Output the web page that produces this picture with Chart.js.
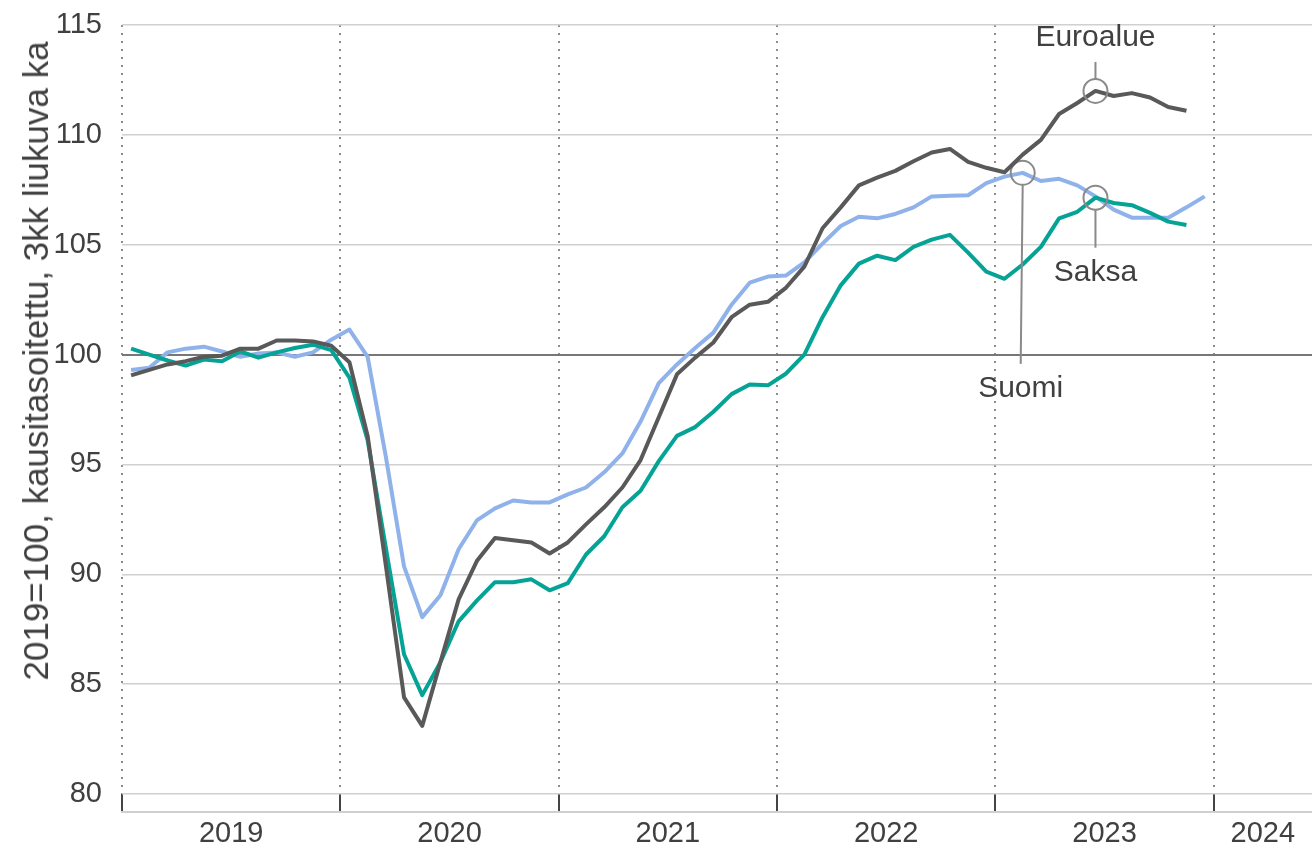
<!DOCTYPE html>
<html>
<head>
<meta charset="utf-8">
<script src="https://cdn.jsdelivr.net/npm/chart.js@4.4.0/dist/chart.umd.min.js"></script>
<style>
html,body{margin:0;padding:0;background:#fff;}
#wrap{position:relative;width:1312px;height:847px;}
#ytitle{position:absolute;left:36px;top:361px;transform:translate(-50%,-50%) rotate(-90deg);white-space:nowrap;
  font:35px "Liberation Sans",Arial,sans-serif;color:#404040;}
</style>
</head>
<body>
<div id="wrap">
  <canvas id="c" width="1312" height="847"></canvas>
  <div id="ytitle">2019=100, kausitasoitettu, 3kk liukuva ka</div>
</div>
<script>
const FONT = '"Liberation Sans", Arial, sans-serif';
const TXT = '#404040';

// monthly, Jan 2019 onwards
const years = ['2019','2020','2021','2022','2023','2024'];
const yTicks = [80,85,90,95,100,105,110,115];

const euroalue = [99.05,99.3,99.55,99.7,99.9,99.95,100.27,100.27,100.64,100.64,
  100.6,100.4,99.65,96.3,90.4,84.4,83.1,86.0,88.86,90.6,
  91.65,91.55,91.45,90.95,91.45,92.27,93.05,93.95,95.2,97.15,
  99.1,99.86,100.55,101.7,102.27,102.4,103.05,104.0,105.75,106.7,
  107.7,108.05,108.36,108.8,109.2,109.36,108.77,108.5,108.3,109.1,
  109.77,110.95,111.45,112.0,111.77,111.9,111.7,111.27,111.1];
const suomi = [99.3,99.4,100.1,100.27,100.36,100.14,99.9,100.05,100.1,99.9,
  100.1,100.68,101.14,99.9,95.36,90.36,88.05,89.05,91.14,92.45,
  93.0,93.36,93.27,93.27,93.64,93.95,94.64,95.5,96.95,98.7,
  99.55,100.3,101.0,102.27,103.27,103.55,103.6,104.2,105.05,105.85,
  106.27,106.2,106.4,106.7,107.2,107.23,107.25,107.8,108.1,108.27,
  107.9,108.0,107.7,107.2,106.6,106.23,106.23,106.23,106.7,107.2];
const saksa = [100.27,100.0,99.73,99.5,99.77,99.7,100.14,99.86,100.1,100.3,
  100.45,100.2,98.95,96.1,91.2,86.36,84.5,86.0,87.86,88.8,
  89.64,89.64,89.77,89.27,89.6,90.9,91.73,93.05,93.8,95.15,
  96.3,96.7,97.4,98.2,98.64,98.6,99.14,100.0,101.7,103.15,
  104.14,104.5,104.3,104.9,105.23,105.45,104.64,103.77,103.45,104.1,
  104.9,106.2,106.5,107.14,106.9,106.8,106.45,106.05,105.9];

const X_MAX = 65.4;  // months shown (mid 2024)
const toPts = arr => arr.map((v,i)=>({x:i+0.5, y:v}));

// label callouts: dataset, point index, offsets of leader line / text from point
const callouts = [
  {ds:0, idx:53, label:'Euroalue', dir:-1, lineEnd:-29, textAt:-53, dx:0},
  {ds:2, idx:49, label:'Suomi',    dir:1,  lineEnd:191, textAt:216, dx:-2},
  {ds:1, idx:53, label:'Saksa',    dir:1,  lineEnd:50,  textAt:75,  dx:0}
];
const RING = '#8a8a8a';

const calloutPlugin = {
  id:'callouts',
  afterDatasetsDraw(chart){
    const ctx = chart.ctx;
    ctx.save();
    ctx.strokeStyle = RING; ctx.lineWidth = 2;
    ctx.font = '30px '+FONT; ctx.fillStyle = TXT;
    ctx.textAlign = 'center'; ctx.textBaseline = 'middle';
    callouts.forEach(c=>{
      const pt = chart.getDatasetMeta(c.ds).data[c.idx];
      ctx.beginPath();
      ctx.moveTo(pt.x, pt.y + c.dir*12);
      ctx.lineTo(pt.x + c.dx, pt.y + c.lineEnd);
      ctx.stroke();
      ctx.fillText(c.label, pt.x + c.dx, pt.y + c.textAt);
    });
    ctx.restore();
  }
};

function series(label, arr, color, ds){
  const hit = callouts.find(c=>c.ds===ds);
  return {label, data:toPts(arr), borderColor:color, borderWidth:4, tension:0,
    borderJoinStyle:'round',
    pointRadius: c => hit && c.dataIndex===hit.idx ? 12 : 0,
    pointBorderColor:RING, pointBorderWidth:2, pointBackgroundColor:'rgba(0,0,0,0)',
    pointHoverRadius:0};
}

new Chart(document.getElementById('c'), {
  type:'line',
  data:{datasets:[
    series('Euroalue', euroalue, '#595959', 0),
    series('Saksa', saksa, '#05a396', 1),
    series('Suomi', suomi, '#8fb2ea', 2)
  ]},
  options:{
    responsive:false, animation:false,
    layout:{padding:{top:25,left:0,right:0,bottom:0}},
    plugins:{legend:{display:false}, tooltip:{enabled:false}},
    scales:{
      x:{type:'linear', position:'bottom', weight:0, min:0, max:X_MAX,
        afterBuildTicks: s => { s.ticks = years.map((y,k)=>({value:k*12})); },
        ticks:{display:false},
        grid:{color:'#8c8c8c', lineWidth:2, drawTicks:true, tickLength:18,
          tickColor:'#444', tickWidth:2, tickBorderDash:[1,0]},
        border:{display:false, dash:[2,6]},
        afterFit: s => { s.height = 18; s.paddingLeft = 0; s.paddingRight = 0; }
      },
      x2:{type:'linear', position:'bottom', weight:1, min:0, max:X_MAX,
        afterBuildTicks: s => { s.ticks = years.map((y,k)=>({value:Math.min(k*12+6,(k*12+X_MAX)/2)})); },
        ticks:{callback:(v,i)=>years[i], font:{size:29,family:FONT}, color:TXT,
          padding:5, maxRotation:0, autoSkip:false},
        grid:{display:false, drawTicks:false},
        border:{display:true, color:'#d0d0d0', width:2},
        afterFit: s => { s.height = 35; s.paddingLeft = 0; s.paddingRight = 0; }
      },
      y:{min:80, max:115,
        afterBuildTicks: s => { s.ticks = yTicks.map(v=>({value:v})); },
        ticks:{font:{size:29,family:FONT}, color:TXT, padding:20},
        grid:{color: c => c.tick && c.tick.value===100 ? '#777' : '#d0d0d0',
          lineWidth: c => c.tick && c.tick.value===100 ? 2 : 1.5, drawTicks:false},
        border:{display:false},
        afterFit: s => { s.width = 122; s.paddingTop = 0; s.paddingBottom = 0; }
      }
    }
  },
  plugins:[calloutPlugin]
});
</script>
</body>
</html>
